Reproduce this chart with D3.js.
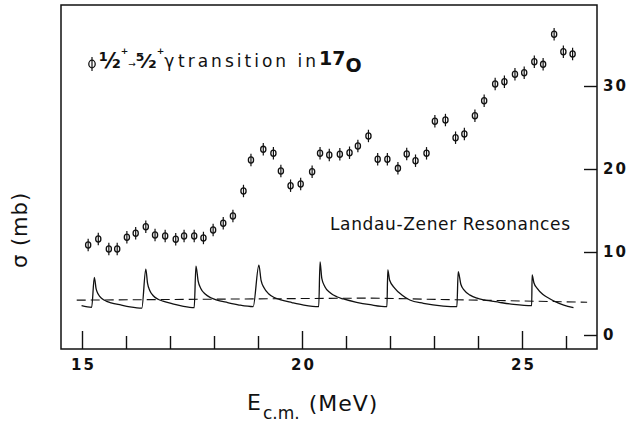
<!DOCTYPE html>
<html>
<head>
<meta charset="utf-8">
<script src="https://cdn.jsdelivr.net/npm/d3@7"></script>
<style>
  body { margin: 0; background: #fff; }
  svg { display: block; }
  text { font-family: "DejaVu Sans", sans-serif; fill: #111; }
</style>
</head>
<body>
<div id="chart"></div>
<script>
let energy = [15.14, 15.37, 15.61, 15.80, 16.02, 16.22, 16.45, 16.66, 16.89, 17.13,
              17.32, 17.55, 17.76, 17.98, 18.21, 18.43, 18.67, 18.84, 19.12, 19.35,
              19.52, 19.74, 19.97, 20.23, 20.41, 20.62, 20.86, 21.08, 21.27, 21.51,
              21.72, 21.94, 22.18, 22.38, 22.58, 22.83, 23.02, 23.26, 23.49, 23.69,
              23.93, 24.14, 24.39, 24.60, 24.84, 25.05, 25.28, 25.48, 25.73, 25.94, 26.15]
let sigma = [10.84, 11.57, 10.36, 10.36, 11.77, 12.25, 13.05, 12.05, 11.93, 11.53,
             11.93, 11.93, 11.69, 12.65, 13.46, 14.34, 17.35, 21.08, 22.37, 21.89,
             19.76, 17.99, 18.19, 19.67, 21.89, 21.69, 21.77, 21.96, 22.77, 23.98,
             21.17, 21.17, 20.08, 21.81, 21.00, 21.89, 25.75, 25.90, 23.77, 24.22,
             26.42, 28.23, 30.24, 30.52, 31.41, 31.60, 32.93, 32.61, 36.23, 34.13, 33.86]
let sigmaErr = 0.75

// Landau-Zener resonance curve (solid), traced point by point
let lzEnergy = [14.99, 15.22,
  15.28, 15.32, 15.37, 15.45, 15.56, 15.66, 15.88, 16.09, 16.36,
  16.45, 16.49, 16.54, 16.62, 16.73, 16.84, 17.06, 17.28, 17.55,
  17.59, 17.64, 17.70, 17.80, 17.93, 18.05, 18.31, 18.57, 18.89,
  19.02, 19.07, 19.14, 19.24, 19.37, 19.50, 19.77, 20.04, 20.38,
  20.41, 20.45, 20.52, 20.64, 20.79, 20.94, 21.24, 21.55, 21.93,
  21.95, 21.99, 22.11, 22.27, 22.45, 22.76, 23.21, 23.52,
  23.55, 23.61, 23.69, 23.82, 23.98, 24.14, 24.48, 24.81, 25.22,
  25.23, 25.27, 25.35, 25.47, 25.62, 25.78, 25.95, 26.17]
let lzSigma = [3.53, 3.34,
  6.95, 5.58, 4.91, 4.40, 4.06, 3.88, 3.62, 3.40, 3.25,
  7.92, 6.21, 5.37, 4.73, 4.31, 4.08, 3.75, 3.48, 3.29,
  8.31, 6.50, 5.61, 4.93, 4.49, 4.24, 3.90, 3.61, 3.41,
  8.43, 6.57, 5.67, 4.97, 4.51, 4.26, 3.91, 3.61, 3.41,
  8.80, 6.83, 5.82, 5.10, 4.61, 4.34, 3.94, 3.65, 3.41,
  7.83, 6.63, 5.63, 4.82, 4.22, 3.82, 3.49, 3.41,
  7.63, 6.11, 5.37, 4.80, 4.43, 4.23, 3.94, 3.69, 3.53,
  7.23, 6.30, 5.60, 4.90, 4.40, 3.95, 3.60, 3.29]

// dashed background line
let bgEnergy = [14.88, 21.5, 26.48]
let bgSigma = [4.2, 4.45, 3.95]

// axis ticks
let xMajor = [15, 20, 25]
let xMinor = [16, 17, 18, 19, 21, 22, 23, 24, 26]
let yTicks = [0, 10, 20, 30]

let width = 629,
    height = 423
let frame = { left: 61, right: 597, top: 5, bottom: 349 }

let svg = d3.select("#chart").append("svg")
    .attr("width", width)
    .attr("height", height)

let x = d3.scaleLinear()
    .domain([15, 25])
    .range([82, 522])
let y = d3.scaleLinear()
    .domain([0, 30])
    .range([335, 86])

// plot frame
svg.append("rect")
    .attr("x", frame.left)
    .attr("y", frame.top)
    .attr("width", frame.right - frame.left)
    .attr("height", frame.bottom - frame.top)
    .attr("fill", "none")
    .attr("stroke", "#111")
    .attr("stroke-width", 1.5)

// bottom axis: minor ticks without labels, major ticks with labels
let gxMinor = svg.append("g")
    .attr("transform", "translate(0," + frame.bottom + ")")
    .call(d3.axisBottom(x).tickValues(xMinor).tickSize(-13).tickFormat(""))
let gxMajor = svg.append("g")
    .attr("transform", "translate(0," + frame.bottom + ")")
    .call(d3.axisBottom(x).tickValues(xMajor).tickSize(-18).tickPadding(10))
;[gxMinor, gxMajor].forEach(function(g) {
  g.select(".domain").remove()
  g.selectAll(".tick line").attr("stroke", "#111").attr("stroke-width", 1.4)
})
gxMajor.selectAll(".tick text")
    .attr("font-size", 15)
    .attr("font-weight", "bold")
    .attr("letter-spacing", 2)
    .attr("font-family", "DejaVu Sans, sans-serif")
    .attr("fill", "#111")
    .attr("dx", 1)

// right axis, ticks pointing inward
let gy = svg.append("g")
    .attr("transform", "translate(" + frame.right + ",0)")
    .call(d3.axisRight(y).tickValues(yTicks).tickSize(-13).tickPadding(6))
gy.select(".domain").remove()
gy.selectAll(".tick line").attr("stroke", "#111").attr("stroke-width", 1.4)
gy.selectAll(".tick text")
    .attr("font-size", 15)
    .attr("font-weight", "bold")
    .attr("letter-spacing", 2)
    .attr("font-family", "DejaVu Sans, sans-serif")
    .attr("fill", "#111")

// dashed line
let line = d3.line()
    .x(function(d) { return x(d[0]) })
    .y(function(d) { return y(d[1]) })

svg.append("path")
    .datum(bgEnergy.map(function(e, i) { return [e, bgSigma[i]] }))
    .attr("d", line)
    .attr("fill", "none")
    .attr("stroke", "#111")
    .attr("stroke-width", 1.1)
    .attr("stroke-dasharray", "9,5")

// Landau-Zener curve
svg.append("path")
    .datum(lzEnergy.map(function(e, i) { return [e, lzSigma[i]] }))
    .attr("d", line.curve(d3.curveMonotoneX))
    .attr("fill", "none")
    .attr("stroke", "#111")
    .attr("stroke-width", 1.3)

// data points drawn as phi symbols
let pts = svg.append("g")
  .selectAll("g")
  .data(energy.map(function(e, i) { return { e: e, s: sigma[i] } }))
  .enter().append("g")

pts.append("line")
    .attr("x1", function(d) { return x(d.e) })
    .attr("x2", function(d) { return x(d.e) })
    .attr("y1", function(d) { return y(d.s + sigmaErr) })
    .attr("y2", function(d) { return y(d.s - sigmaErr) })
    .attr("stroke", "#111")
    .attr("stroke-width", 1.2)
pts.append("ellipse")
    .attr("cx", function(d) { return x(d.e) })
    .attr("cy", function(d) { return y(d.s) })
    .attr("rx", 2.6)
    .attr("ry", 3.1)
    .attr("fill", "none")
    .attr("stroke", "#111")
    .attr("stroke-width", 1.3)

// legend
let leg = svg.append("g")
leg.append("line")
    .attr("x1", 92).attr("x2", 92)
    .attr("y1", 57).attr("y2", 71)
    .attr("stroke", "#111").attr("stroke-width", 1.2)
leg.append("ellipse")
    .attr("cx", 92).attr("cy", 64)
    .attr("rx", 3.2).attr("ry", 3.8)
    .attr("fill", "none").attr("stroke", "#111").attr("stroke-width", 1.3)

// 1/2+ -> 5/2+ gamma
let lt = leg.append("text").attr("x", 99).attr("y", 68).attr("font-weight", "bold")
lt.append("tspan").attr("font-size", 21).text("½")
lt.append("tspan").attr("y", 54).attr("font-size", 9).text("+")
lt.append("tspan").attr("y", 67).attr("font-size", 9).attr("font-weight", "normal").text("→")
lt.append("tspan").attr("y", 68).attr("font-size", 20).text("⁵⁄₂")
lt.append("tspan").attr("y", 54).attr("font-size", 9).text("+")
lt.append("tspan").attr("y", 67).attr("font-size", 17).attr("font-weight", "normal").text("γ")

leg.append("text").attr("x", 178).attr("y", 67)
    .attr("font-size", 17)
    .attr("textLength", 138).attr("lengthAdjust", "spacing")
    .text("transition in")
let iso = leg.append("text").attr("x", 319).attr("y", 65)
    .attr("font-weight", "bold")
iso.append("tspan").attr("font-size", 19).text("17")
iso.append("tspan").attr("y", 72).attr("font-size", 19).text("O")

svg.append("text")
    .attr("x", 330).attr("y", 230)
    .attr("font-size", 17)
    .attr("textLength", 240).attr("lengthAdjust", "spacing")
    .text("Landau-Zener Resonances")

// axis titles
let xt = svg.append("text")
    .attr("x", 247).attr("y", 410)
    .attr("font-size", 22)
xt.append("tspan").text("E")
xt.append("tspan").attr("y", 419).attr("dx", 2).attr("font-size", 17).text("c.m.")
xt.append("tspan").attr("y", 411).attr("dx", 9).attr("letter-spacing", 1).text("(MeV)")

svg.append("text")
    .attr("transform", "translate(27,230) rotate(-90)")
    .attr("text-anchor", "middle")
    .attr("font-size", 21)
    .attr("letter-spacing", 1)
    .text("σ (mb)")
</script>
</body>
</html>
